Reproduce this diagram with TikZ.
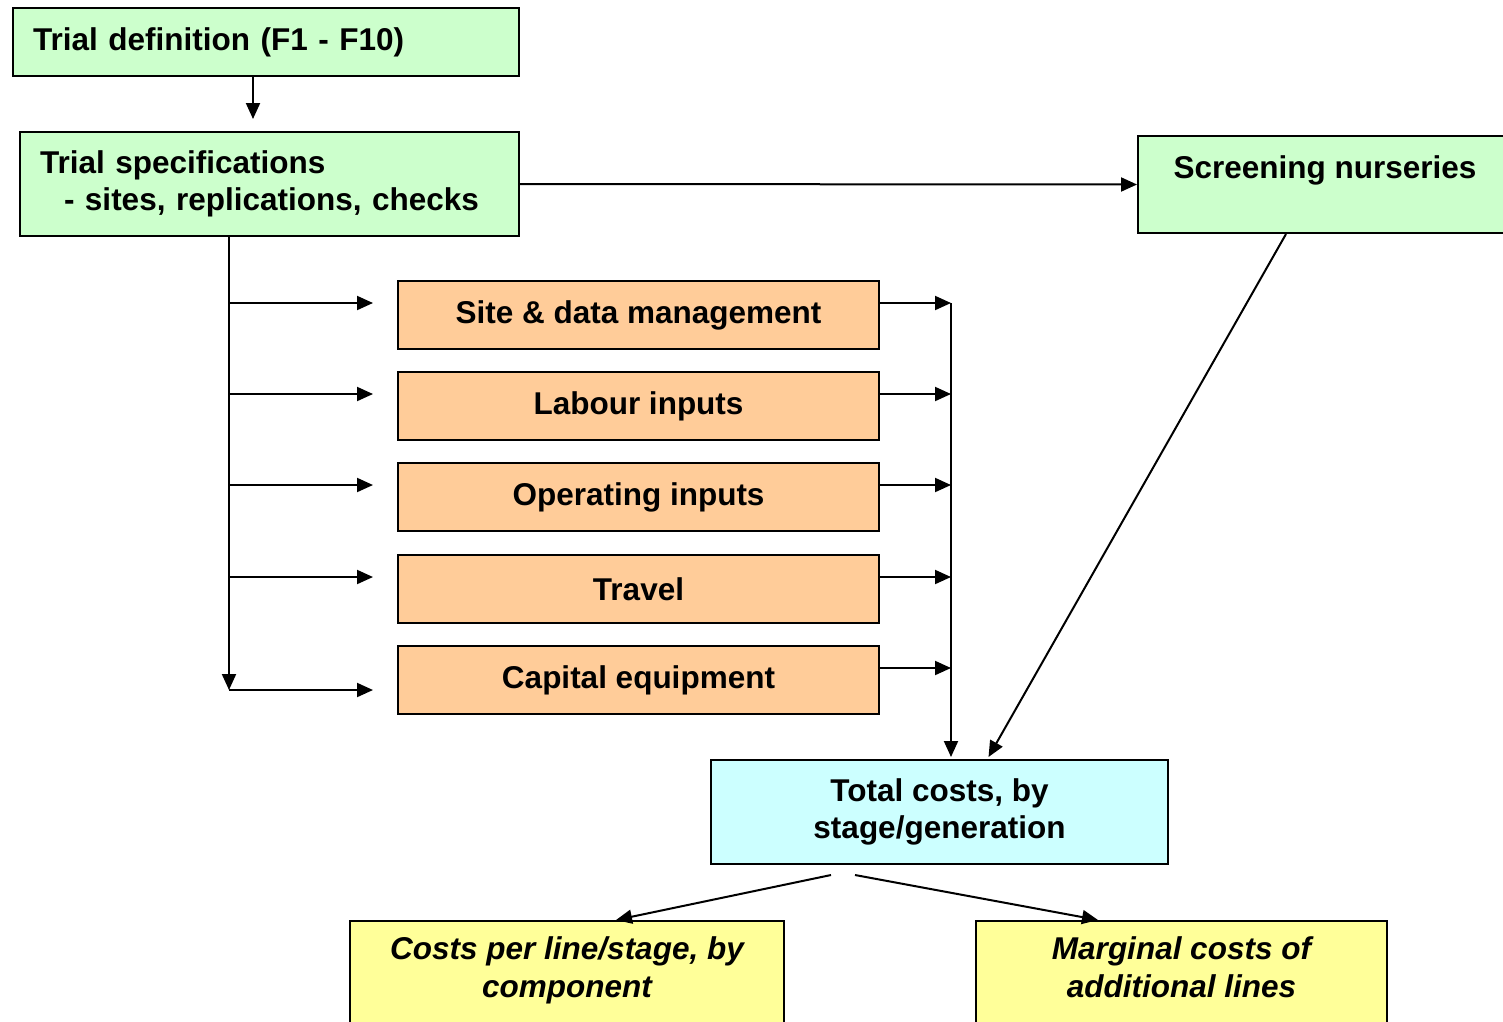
\documentclass[tikz,border=0pt]{standalone}
\usepackage{fontspec}
\setmainfont{Liberation Sans}
\usetikzlibrary{arrows.meta}

\definecolor{specgreen}{HTML}{CCFFCC}
\definecolor{inputorange}{HTML}{FFCC99}
\definecolor{totalcyan}{HTML}{CCFFFF}
\definecolor{outyellow}{HTML}{FFFF99}

\tikzset{
  box/.style={draw,line width=2pt,inner sep=0pt,font=\fontsize{31.5}{37}\selectfont\bfseries},
  specbox/.style={box,fill=specgreen,anchor=north west,align=left},
  inputbox/.style={box,fill=inputorange,minimum width=481pt,minimum height=68pt},
  outbox/.style={box,fill=outyellow,anchor=north west,align=center,minimum height=140pt,
    text height=61pt,text depth=49pt,font=\fontsize{31.5}{38}\selectfont\bfseries\itshape},
  arr/.style={line width=2pt,-{Triangle[length=16pt,width=14pt]}}
}

\begin{document}
\begin{tikzpicture}[x=1pt,y=-1pt]
\useasboundingbox (0,0) rectangle (1503,1021);

\node (def) at (12,7) [specbox,minimum width=506pt,minimum height=68pt,text width=466pt]{Trial definition (F1 - F10)};
\node (spec) at (19,131) [specbox,minimum width=499pt,minimum height=104pt,text width=459pt]{Trial specifications\\\hspace*{24pt}- sites, replications, checks};
\node (screen) at (1137,135) [specbox,align=center,minimum width=374pt,minimum height=97pt,text height=23pt,text depth=36pt]{Screening nurseries};

\node (site) at (638.5,315) [inputbox]{Site \& data management};
\node (labour) at (638.5,406) [inputbox]{Labour inputs};
\node (oper) at (638.5,497) [inputbox]{Operating inputs};
\node (travel) at (638.5,589) [inputbox]{Travel};
\node (cap) at (638.5,680) [inputbox]{Capital equipment};

\node (total) at (939.5,812) [box,fill=totalcyan,align=center,minimum width=457pt,minimum height=104pt]{Total costs, by\\stage/generation};

\node (costs) at (349,920) [outbox,minimum width=434pt]{Costs per line/stage, by\\component};
\node (marg) at (975,920) [outbox,minimum width=411pt]{Marginal costs of\\additional lines};

\coordinate (d1) at (253,119);
\coordinate (lbus) at (229,0);
\coordinate (lend) at (229,690);
\coordinate (lx) at (373,0);
\coordinate (rx) at (951,0);
\coordinate (t1) at (831,875);
\coordinate (t2) at (855,875);

\draw[arr] (def.south -| d1) -- (d1);
\draw[arr] (spec.east) -- (screen.west);

\draw[arr] (lbus |- spec.south) -- (lend);
\draw[arr] ([yshift=12pt]lbus |- site.west) -- ([yshift=12pt]lx |- site.west);
\draw[arr] ([yshift=12pt]lbus |- labour.west) -- ([yshift=12pt]lx |- labour.west);
\draw[arr] ([yshift=12pt]lbus |- oper.west) -- ([yshift=12pt]lx |- oper.west);
\draw[arr] ([yshift=12pt]lbus |- travel.west) -- ([yshift=12pt]lx |- travel.west);
\draw[arr] (lend) -- (lx |- lend);

\draw[arr] ([yshift=12pt]site.east) -- ([yshift=12pt]rx |- site.east);
\draw[arr] ([yshift=12pt]labour.east) -- ([yshift=12pt]rx |- labour.east);
\draw[arr] ([yshift=12pt]oper.east) -- ([yshift=12pt]rx |- oper.east);
\draw[arr] ([yshift=12pt]travel.east) -- ([yshift=12pt]rx |- travel.east);
\draw[arr] ([yshift=12pt]cap.east) -- ([yshift=12pt]rx |- cap.east);
\draw[arr] ([yshift=12pt]rx |- site.east) -- ([yshift=2pt]rx |- total.north);

\draw[arr] ([xshift=-39pt]screen.south) -- ([xshift=49pt,yshift=2pt]total.north);

\draw[arr] (t1) -- ([xshift=49pt]costs.north);
\draw[arr] (t2) -- ([xshift=-83.5pt]marg.north);
\end{tikzpicture}
\end{document}
